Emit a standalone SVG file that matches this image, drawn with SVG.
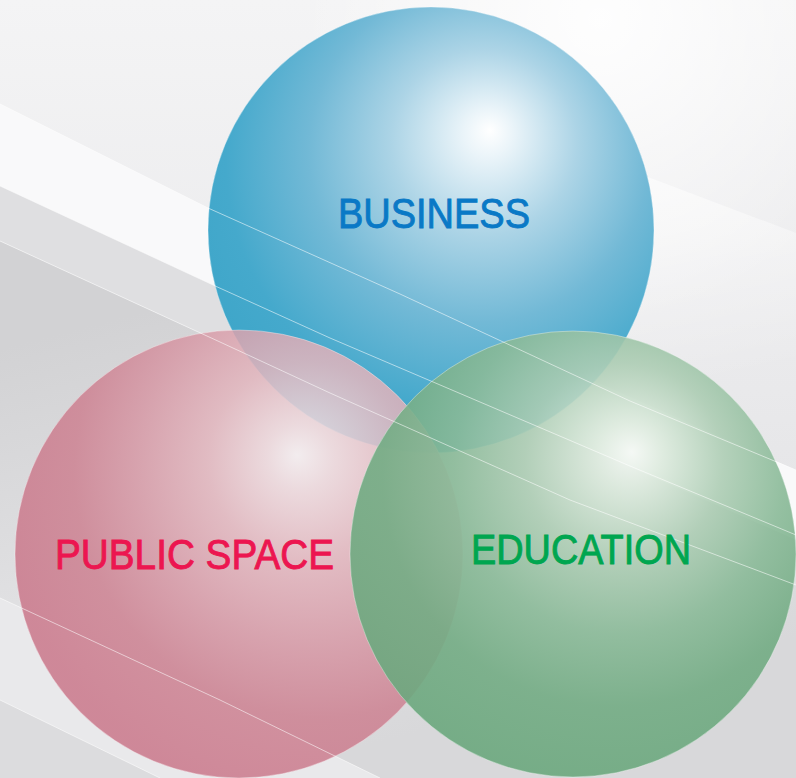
<svg xmlns="http://www.w3.org/2000/svg" width="796" height="778" viewBox="0 0 796 778">
<defs>
<linearGradient id="bg" x1="0" y1="0" x2="0" y2="1">
<stop offset="0" stop-color="#f4f4f5"/>
<stop offset="0.5" stop-color="#e9e9eb"/>
<stop offset="1" stop-color="#dcdcde"/>
</linearGradient>
<linearGradient id="darkband" x1="0" y1="0.2" x2="0.3" y2="1">
<stop offset="0" stop-color="#d2d2d4"/>
<stop offset="0.6" stop-color="#e2e2e4"/>
<stop offset="1" stop-color="#d8d8da"/>
</linearGradient>
<linearGradient id="rwhite" x1="0" y1="0" x2="0.25" y2="1">
<stop offset="0" stop-color="#ffffff" stop-opacity="0.9"/>
<stop offset="0.6" stop-color="#ffffff" stop-opacity="0.4"/>
<stop offset="1" stop-color="#ffffff" stop-opacity="0"/>
</linearGradient>
<radialGradient id="topglow" cx="600" cy="20" r="300" gradientUnits="userSpaceOnUse">
<stop offset="0" stop-color="#ffffff" stop-opacity="0.9"/>
<stop offset="1" stop-color="#ffffff" stop-opacity="0"/>
</radialGradient>
<radialGradient id="gBlue" cx="470" cy="170" r="310" fx="490" fy="130" gradientUnits="userSpaceOnUse">
<stop offset="0" stop-color="#ffffff"/>
<stop offset="0.08" stop-color="#eaf4f9"/>
<stop offset="0.3" stop-color="#acd4e6"/>
<stop offset="0.55" stop-color="#72b9d6"/>
<stop offset="0.8" stop-color="#45a9cc"/>
<stop offset="1" stop-color="#3ca5c8"/>
</radialGradient>
<radialGradient id="gPink" cx="330" cy="475" r="330" fx="297" fy="455" gradientUnits="userSpaceOnUse">
<stop offset="0" stop-color="#f6eff1"/>
<stop offset="0.1" stop-color="#eed9dd"/>
<stop offset="0.3" stop-color="#e2b6be"/>
<stop offset="0.55" stop-color="#d698a5"/>
<stop offset="0.75" stop-color="#cd8292"/>
<stop offset="1" stop-color="#ca788b"/>
</radialGradient>
<radialGradient id="gGreen" cx="605" cy="485" r="330" fx="632" fy="452" gradientUnits="userSpaceOnUse">
<stop offset="0" stop-color="#f4f8f4"/>
<stop offset="0.1" stop-color="#dceadd"/>
<stop offset="0.3" stop-color="#adcdb4"/>
<stop offset="0.5" stop-color="#8aba98"/>
<stop offset="0.7" stop-color="#73ac84"/>
<stop offset="1" stop-color="#68a67b"/>
</radialGradient>
<style>
.sphere { stroke: #ffffff; stroke-opacity: 0.35; stroke-width: 1; }
.lbl { font-family: "Liberation Sans", Arial, sans-serif; font-size: 42px; stroke-width: 0.9px; }
.ln { fill: none; stroke: #ffffff; stroke-width: 1; stroke-opacity: 0.55; }
</style>
</defs>

<g id="background">
<rect x="0" y="0" width="796" height="778" fill="url(#bg)"/>
<rect x="0" y="0" width="796" height="400" fill="url(#topglow)"/>
<polygon points="400,83 796,233 796,430 400,270" fill="url(#rwhite)"/>
<polygon points="0,104 208,208 508,343 796,470 796,540 630,467 330,338 213,285 0,186" fill="#f9f9fa"/>
<polygon points="0,186 213,285 330,338 630,467 796,540 796,585 570,500 330,393 220,342 0,241" fill="#dfdfe1"/>
<polygon points="0,241 220,342 330,393 570,500 796,585 796,778 0,778" fill="url(#darkband)"/>
<polygon points="0,598 220,700 380,778 0,778" fill="#e9e9eb"/>
<polygon points="0,700 160,778 0,778" fill="#dcdcde"/>
</g>

<g id="node-business">
<circle class="sphere" cx="431" cy="230" r="223" fill="url(#gBlue)"/>
</g>
<g id="node-public-space">
<circle class="sphere" cx="239" cy="554" r="224" fill="url(#gPink)" fill-opacity="0.86"/>
</g>
<g id="node-education">
<circle class="sphere" cx="573" cy="554" r="223" fill="url(#gGreen)" fill-opacity="0.9"/>
</g>

<g id="connectors">
<polyline class="ln" points="0,104 208,208 400,294 630,401 796,470"/>
<polyline class="ln" points="0,186 213,285 330,338 630,466 796,535"/>
<polyline class="ln" points="0,241 220,342 330,393 570,500 796,585"/>
<polyline class="ln" points="0,598 220,700 380,778"/>
<polyline class="ln" points="0,700 160,778"/>
</g>

<g id="labels">
<text class="lbl" x="338" y="228" fill="#0a79c6" stroke="#0a79c6" textLength="192" lengthAdjust="spacingAndGlyphs">BUSINESS</text>
<text class="lbl" x="55" y="569" fill="#ec1650" stroke="#ec1650" textLength="279" lengthAdjust="spacingAndGlyphs">PUBLIC SPACE</text>
<text class="lbl" x="471" y="564" fill="#00a650" stroke="#00a650" textLength="220" lengthAdjust="spacingAndGlyphs">EDUCATION</text>
</g>
</svg>
